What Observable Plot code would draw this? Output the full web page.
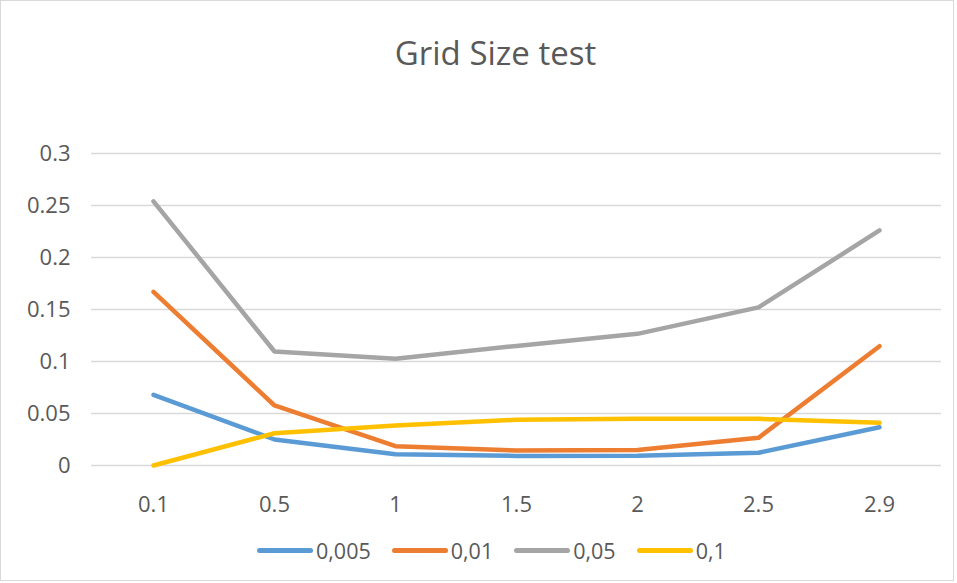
<!DOCTYPE html>
<html>
<head>
<meta charset="utf-8">
<script src="https://cdn.jsdelivr.net/npm/d3@7"></script>
<script src="https://cdn.jsdelivr.net/npm/@observablehq/plot@0.6"></script>
<style>
  html, body { margin: 0; padding: 0; background: #fff; }
  #wrap { position: relative; width: 957px; height: 583px; overflow: hidden; font-family: "Open Sans", Lato, sans-serif; }
  #frame { position: absolute; left: 0; top: 0; width: 952px; height: 579px; border: 1px solid #D9D9D9; box-sizing: content-box; pointer-events: none; }
  #title { position: absolute; left: 0; top: 38px; width: 991px; text-align: center; font-size: 33px; line-height: 30px; color: #595959; }
  #legend { position: absolute; left: 257px; top: 535px; height: 30px; display: flex; align-items: center; font-size: 21.5px; color: #595959; }
  .item { display: flex; align-items: center; margin-right: 21px; }
  .sw { width: 56px; height: 5px; border-radius: 3px; margin-right: 3px; }
  #chart { position: absolute; left: 0; top: 0; }
</style>
</head>
<body>
<div id="wrap">
  <div id="chart"></div>
  <div id="title">Grid Size test</div>
  <div id="legend"></div>
  <div id="frame"></div>
</div>
<script>
const categories = ["0.1", "0.5", "1", "1.5", "2", "2.5", "2.9"];
const seriesNames = ["0,005", "0,01", "0,05", "0,1"];
const s0005 = [0.068, 0.025, 0.0108, 0.0092, 0.0094, 0.0122, 0.0368];
const s001  = [0.167, 0.0577, 0.0186, 0.0144, 0.015, 0.0266, 0.1147];
const s005  = [0.254, 0.1096, 0.1026, 0.115, 0.1266, 0.152, 0.226];
const s01   = [0.0, 0.031, 0.0385, 0.044, 0.045, 0.0449, 0.041];
const colors = ["#5B9BD5", "#ED7D31", "#A5A5A5", "#FFC000"];
const yTicks = [0, 0.05, 0.1, 0.15, 0.2, 0.25, 0.3];
const yTickLabels = ["0", "0.05", "0.1", "0.15", "0.2", "0.25", "0.3"];

const allSeries = [s0005, s001, s005, s01];
const data = [];
allSeries.forEach((vals, si) => {
  vals.forEach((v, i) => data.push({series: seriesNames[si], x: categories[i], y: v}));
});

const plot = Plot.plot({
  width: 957,
  height: 583,
  marginLeft: 91,
  marginRight: 16,
  marginTop: 153,
  marginBottom: 118,
  style: {fontFamily: "'Open Sans', Lato, sans-serif", fontSize: "22px", color: "#595959", background: "transparent"},
  x: {type: "point", domain: categories, padding: 0.5, label: null},
  y: {domain: [0, 0.3], label: null},
  color: {domain: seriesNames, range: colors},
  marks: [
    Plot.ruleY(yTicks, {stroke: "#D9D9D9", strokeWidth: 1.3}),
    Plot.axisY({ticks: yTicks, tickSize: 0, tickPadding: 21, fontSize: 22, tickFormat: (d) => yTickLabels[yTicks.indexOf(d)], label: null, fill: "#595959"}),
    Plot.axisX({tickSize: 0, tickPadding: 31, fontSize: 22, label: null, fill: "#595959"}),
    Plot.line(data, {x: "x", y: "y", z: "series", stroke: "series", strokeWidth: 4.5, strokeLinecap: "round", strokeLinejoin: "round"})
  ]
});
document.getElementById("chart").appendChild(plot);

const legend = document.getElementById("legend");
seriesNames.forEach((n, i) => {
  const it = document.createElement("div");
  it.className = "item";
  const sw = document.createElement("div");
  sw.className = "sw";
  sw.style.background = colors[i];
  const t = document.createElement("span");
  t.textContent = n;
  it.appendChild(sw); it.appendChild(t);
  legend.appendChild(it);
});
</script>
</body>
</html>
